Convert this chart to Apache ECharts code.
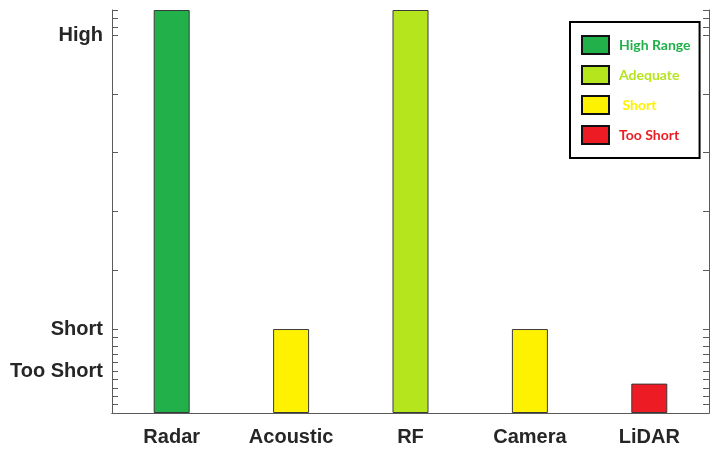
<!DOCTYPE html>
<html><head><meta charset="utf-8">
<script src="https://cdn.jsdelivr.net/npm/echarts@6/dist/echarts.min.js"></script>
<style>html,body{margin:0;padding:0;background:#fff}#c{width:718px;height:451px}</style>
</head><body><div id="c"></div>
<script>
const categories = ['Radar', 'Acoustic', 'RF', 'Camera', 'LiDAR'];
const highRange = [48, null, null, null, null];
const adequate = [null, null, 48, null, null];
const shortVals = [null, 10, null, 10, null];
const tooShort = [null, null, null, null, 3.5];
const yTickValues = [0,1,2,3,4,5,6,7,8,9,10,17,24,31,38,45,46,47,48];
const yLabelValues = [5, 10, 45];
const yLabelNames = {5: 'Too Short', 10: 'Short', 45: 'High'};
const colors = {high: '#22b04b', adequate: '#b5e61d', short: '#fff200', tooShort: '#ed1c24'};

const chart = echarts.init(document.getElementById('c'));
const axisGrey = '#5a5a5a';
const font = 'Liberation Sans, Arial, sans-serif';
function bar(name, data, color) {
  return {
    name, type: 'bar', data, barWidth: 36, barGap: '-100%',
    itemStyle: {color, borderColor: '#3a3a3a', borderWidth: 1},
    xAxisIndex: 0, yAxisIndex: 0
  };
}
chart.setOption({
  backgroundColor: '#fff',
  animation: false,
  grid: {left: 112, right: 9, top: 10, bottom: 38},
  legend: {
    orient: 'vertical', left: 570, top: 22,
    padding: [13, 9, 13, 11],
    borderColor: '#000', borderWidth: 2,
    icon: 'rect',
    itemWidth: 27, itemHeight: 18, itemGap: 10,
    itemStyle: {borderColor: '#111', borderWidth: 2},
    textStyle: {fontFamily: 'Lato, Open Sans, sans-serif', fontWeight: 'bold', fontSize: 14, lineHeight: 18, padding: [0,0,0,5], width: 67},
    data: [
      {name: 'High Range', textStyle: {color: colors.high}},
      {name: 'Adequate', textStyle: {color: colors.adequate}},
      {name: ' Short', textStyle: {color: colors.short}},
      {name: 'Too Short', textStyle: {color: colors.tooShort}}
    ]
  },
  xAxis: [{
    type: 'category', data: categories, position: 'bottom', z: 10,
    axisLine: {lineStyle: {color: axisGrey, width: 1}},
    axisTick: {inside: true, alignWithLabel: true, length: 5, lineStyle: {color: '#e0e0e0', width: 2}},
    axisLabel: {color: '#262626', fontFamily: font, fontWeight: 'bold', fontSize: 20, margin: 14}
  }, {
    type: 'category', data: categories, position: 'top', z: 10,
    axisLine: {lineStyle: {color: axisGrey, width: 1}},
    axisTick: {inside: true, alignWithLabel: true, length: 5, lineStyle: {color: '#e0e0e0', width: 2}},
    axisLabel: {show: false}
  }],
  yAxis: [{
    type: 'value', min: 0, max: 48, position: 'left',
    splitLine: {show: false},
    axisLine: {show: true, lineStyle: {color: axisGrey, width: 1}},
    axisTick: {show: true, inside: true, length: 6, customValues: yTickValues, lineStyle: {color: axisGrey}},
    axisLabel: {customValues: yLabelValues, formatter: v => yLabelNames[v] || '',
      color: '#262626', fontFamily: font, fontWeight: 'bold', fontSize: 20, margin: 9}
  }, {
    type: 'value', min: 0, max: 48, position: 'right',
    splitLine: {show: false},
    axisLine: {show: true, lineStyle: {color: axisGrey, width: 1}},
    axisTick: {show: true, inside: true, length: 6, customValues: yTickValues, lineStyle: {color: axisGrey}},
    axisLabel: {show: false}
  }],
  series: [
    bar('High Range', highRange, colors.high),
    bar('Adequate', adequate, colors.adequate),
    bar(' Short', shortVals, colors.short),
    bar('Too Short', tooShort, colors.tooShort)
  ]
});
</script></body></html>
